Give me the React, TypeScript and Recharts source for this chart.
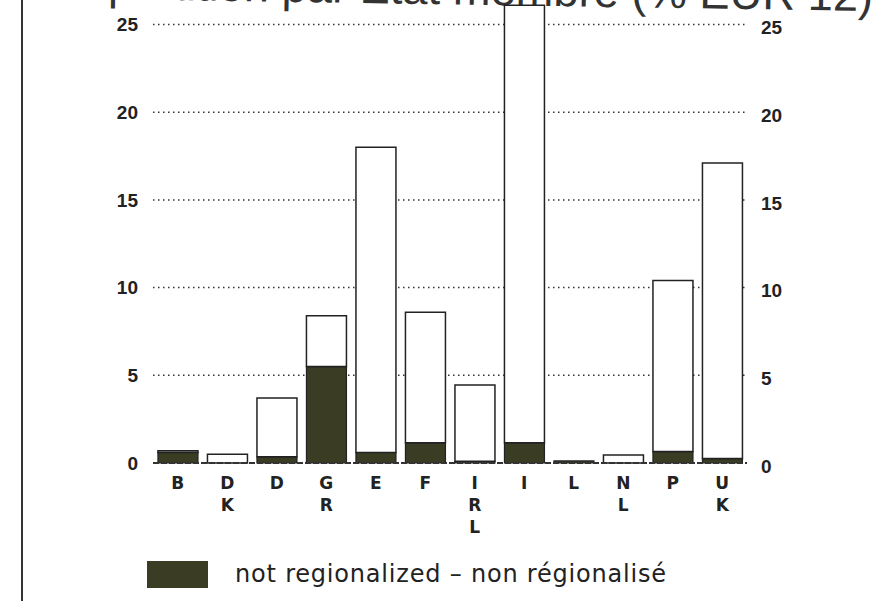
import React from 'react';
import { ComposedChart, Bar, Line, XAxis, YAxis, CartesianGrid, ReferenceLine, Legend } from 'recharts';

// Member states, in the order of the original figure
const countries = ['B', 'DK', 'D', 'GR', 'E', 'F', 'IRL', 'I', 'L', 'NL', 'P', 'UK'];
// dark part of each bar (% EUR 12)
const notRegionalized = [0.6, 0, 0.35, 5.5, 0.6, 1.15, 0.1, 1.15, 0.12, 0, 0.65, 0.25];
// white part on top of it
const regionalized = [0.1, 0.5, 3.35, 2.9, 17.4, 7.45, 4.35, 24.95, 0, 0.45, 9.75, 16.85];
const yTicks = [0, 5, 10, 15, 20, 25];

const title = 'Répartition par Etat membre (% EUR 12)';
const legendLabel = 'not regionalized – non régionalisé';

const DARK = '#3a3c24';
const INK = '#222';

const data = countries.map((c, i) => ({
    name: c,
    notReg: notRegionalized[i],
    reg: regionalized[i],
}));

const CountryTick = (props: any) => {
    const { x, y, payload } = props;
    const letters = String(payload.value).split('');
    return (
        <g>
            {letters.map((ch, i) => (
                <text
                    key={i}
                    x={x}
                    y={y + 26 + i * 22}
                    textAnchor="middle"
                    fontSize={17}
                    fontWeight={700}
                    fontFamily="'DejaVu Sans', sans-serif"
                    fill={INK}
                >
                    {ch}
                </text>
            ))}
        </g>
    );
};

const LegendBox = () => (
    <div style={{ display: 'flex', alignItems: 'center', height: 28 }}>
        <div style={{ width: 61, height: 27, background: DARK }} />
        <span
            style={{
                marginLeft: 27,
                fontSize: 24,
                lineHeight: '28px',
                letterSpacing: 0.8,
                fontFamily: "'DejaVu Sans', sans-serif",
                color: INK,
                whiteSpace: 'nowrap',
            }}
        >
            {legendLabel}
        </span>
    </div>
);

export default function App() {
    const tickStyle = { fontSize: 19, fontWeight: 700, fill: INK, fontFamily: "'Liberation Sans', Arial, sans-serif" };
    return (
        <div style={{ position: 'absolute', left: 0, top: 0, width: 885, height: 601, background: '#fff', overflow: 'hidden' }}>
            <div style={{ position: 'absolute', left: 21, top: 0, width: 2, height: 601, background: '#333' }} />
            <svg width={885} height={40} style={{ position: 'absolute', left: 0, top: 0 }}>
                {/* the scanned page is a little tilted, the heading is cut at the top */}
                <text
                    x={50}
                    y={-1}
                    transform="rotate(0.9 107 -1)"
                    fontSize={45}
                    fontFamily="'Liberation Sans', Arial, sans-serif"
                    fill="#333"
                    textLength={823}
                    lengthAdjust="spacingAndGlyphs"
                >
                    {title}
                </text>
            </svg>
            <div style={{ position: 'absolute', left: 0, top: 0 }}>
                <ComposedChart
                    width={885}
                    height={601}
                    data={data}
                    margin={{ top: 0, right: 0, bottom: 20, left: 0 }}
                    barCategoryGap="10%"
                >
                    <CartesianGrid
                        horizontal
                        vertical={false}
                        stroke="#333"
                        strokeWidth={1.5}
                        strokeDasharray="1.5 3.5"
                        horizontalValues={[5, 10, 15, 20, 25]}
                    />
                    <XAxis
                        dataKey="name"
                        height={90}
                        axisLine={false}
                        tickLine={false}
                        tickSize={0}
                        tickMargin={0}
                        interval={0}
                        tick={<CountryTick />}
                    />
                    <YAxis
                        width={153}
                        domain={[0, 26.4]}
                        ticks={yTicks}
                        axisLine={false}
                        tickLine={false}
                        tickSize={6}
                        tickMargin={9}
                        tick={tickStyle}
                    />
                    <YAxis
                        yAxisId="right"
                        orientation="right"
                        width={138}
                        domain={[0, 26.4]}
                        ticks={yTicks}
                        axisLine={false}
                        tickLine={false}
                        tickSize={6}
                        tickMargin={8}
                        tick={{ ...tickStyle, dy: 3 }}
                    />
                    <ReferenceLine y={0} stroke="#333" strokeWidth={2} strokeDasharray="6 2" />
                    <Bar dataKey="notReg" stackId="a" fill={DARK} stroke={INK} strokeWidth={1.2} isAnimationActive={false} />
                    <Bar dataKey="reg" stackId="a" fill="#fff" stroke={INK} strokeWidth={1.5} isAnimationActive={false} />
                    {/* invisible series so the right-hand scale is drawn */}
                    <Line
                        yAxisId="right"
                        dataKey="notReg"
                        stroke="none"
                        dot={false}
                        activeDot={false}
                        legendType="none"
                        isAnimationActive={false}
                    />
                    <Legend
                        verticalAlign="bottom"
                        content={<LegendBox />}
                        wrapperStyle={{ left: 147, top: 560, width: 700, bottom: 'auto' }}
                    />
                </ComposedChart>
            </div>
        </div>
    );
}
